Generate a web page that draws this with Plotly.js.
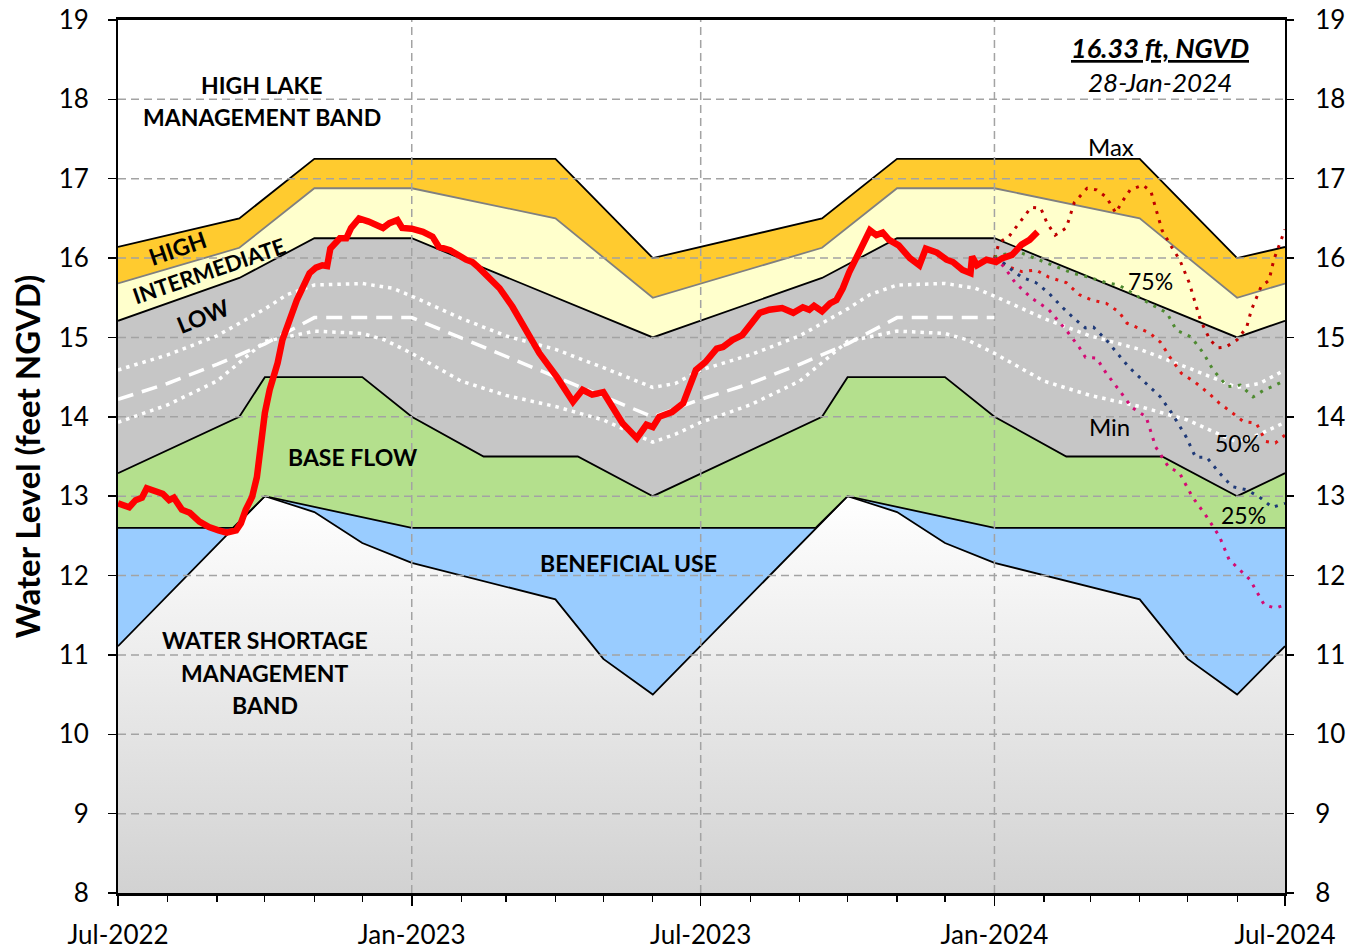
<!DOCTYPE html>
<html>
<head>
<meta charset="utf-8">
<script src="https://cdn.plot.ly/plotly-3.0.1.min.js"></script>
<style>
  html, body { margin: 0; padding: 0; background: #fff; }
  #plot { width: 1361px; height: 952px; }
</style>
</head>
<body>
<div id="plot"></div>
<script>
// schedule band boundaries (ft NGVD)
var highTopDates = ['2022-07-01','2022-09-15','2022-11-01','2023-04-01','2023-06-01','2023-09-15','2023-11-01','2024-04-01','2024-06-01','2024-07-01'];
var highTop = [16.14, 16.5, 17.25, 17.25, 16.0, 16.5, 17.25, 17.25, 16.0, 16.14];

var interTopDates = ['2022-07-01','2022-09-15','2022-11-01','2023-01-01','2023-04-01','2023-06-01','2023-09-15','2023-11-01','2024-01-01','2024-04-01','2024-06-01','2024-07-01'];
var interTop = [15.68, 16.13, 16.88, 16.88, 16.5, 15.5, 16.13, 16.88, 16.88, 16.5, 15.5, 15.68];

var lowTopDates = ['2022-07-01','2022-09-15','2022-11-01','2023-01-01','2023-06-01','2023-09-15','2023-11-01','2024-01-01','2024-06-01','2024-07-01'];
var lowTop = [15.21, 15.75, 16.25, 16.25, 15.0, 15.75, 16.25, 16.25, 15.0, 15.21];

var baseTopDates = ['2022-07-01','2022-09-15','2022-10-01','2022-12-01','2023-01-01','2023-02-15','2023-04-15','2023-06-01','2023-09-15','2023-10-01','2023-12-01','2024-01-01','2024-02-15','2024-04-15','2024-06-01','2024-07-01'];
var baseTop = [13.29, 14.0, 14.5, 14.5, 14.0, 13.5, 13.5, 13.0, 14.0, 14.5, 14.5, 14.0, 13.5, 13.5, 13.0, 13.29];

var benefTopDates = ['2022-07-01','2022-09-11','2022-10-01','2023-01-01','2023-09-11','2023-10-01','2024-01-01','2024-07-01'];
var benefTop = [12.6, 12.6, 13.0, 12.6, 12.6, 13.0, 12.6, 12.6];

var shortTopDates = ['2022-07-01','2022-10-01','2022-11-01','2022-12-01','2023-01-01','2023-04-01','2023-05-01','2023-06-01','2023-10-01','2023-11-01','2023-12-01','2024-01-01','2024-04-01','2024-05-01','2024-06-01','2024-07-01'];
var shortTop = [11.11, 13.0, 12.8, 12.41, 12.16, 11.7, 10.95, 10.5, 13.0, 12.8, 12.41, 12.16, 11.7, 10.95, 10.5, 11.11];

// white lines inside the low band
var upperDates = ['2022-07-01','2022-08-01','2022-09-01','2022-10-01','2022-10-15','2022-11-01','2022-12-01','2022-12-20','2023-01-01','2023-02-01','2023-03-01','2023-04-01','2023-05-01','2023-06-01','2023-06-15',
                  '2023-07-01','2023-08-01','2023-09-01','2023-10-01','2023-10-15','2023-11-01','2023-12-01','2023-12-20','2024-01-01','2024-02-01','2024-03-01','2024-04-01','2024-05-01','2024-06-01','2024-06-15','2024-07-01'];
var upper = [14.59, 14.78, 15.02, 15.36, 15.54, 15.66, 15.68, 15.62, 15.52, 15.24, 15.02, 14.85, 14.62, 14.37, 14.42,
             14.59, 14.78, 15.02, 15.36, 15.54, 15.66, 15.68, 15.62, 15.52, 15.24, 15.02, 14.85, 14.62, 14.37, 14.42, 14.59];

var midDates = ['2022-07-01','2022-08-01','2022-09-01','2022-10-01','2022-11-01','2023-01-01','2023-06-01','2023-07-01','2023-08-01','2023-09-01','2023-10-01','2023-11-01','2024-01-01'];
var mid = [14.22, 14.42, 14.66, 14.92, 15.25, 15.25, 14.0, 14.22, 14.42, 14.66, 14.92, 15.25, 15.25];

var lowerDates = ['2022-07-01','2022-08-01','2022-09-01','2022-09-15','2022-10-01','2022-11-01','2022-12-01','2022-12-15','2023-01-01','2023-02-01','2023-03-01','2023-04-01','2023-05-01','2023-06-01','2023-06-15',
                  '2023-07-01','2023-08-01','2023-09-01','2023-09-15','2023-10-01','2023-11-01','2023-12-01','2023-12-15','2024-01-01','2024-02-01','2024-03-01','2024-04-01','2024-05-01','2024-06-01','2024-06-15','2024-07-01'];
var lower = [13.93, 14.15, 14.45, 14.68, 14.95, 15.08, 15.05, 14.97, 14.8, 14.45, 14.27, 14.13, 13.96, 13.68, 13.78,
             13.93, 14.15, 14.45, 14.68, 14.95, 15.08, 15.05, 14.97, 14.8, 14.45, 14.27, 14.13, 13.96, 13.68, 13.78, 13.93];

// observed lake stage
var obsDates = [
  '2022-07-01','2022-07-08','2022-07-12','2022-07-16','2022-07-19','2022-07-25','2022-07-29',
  '2022-08-02','2022-08-05','2022-08-10','2022-08-15','2022-08-21','2022-08-27',
  '2022-09-02','2022-09-07','2022-09-13','2022-09-16','2022-09-19','2022-09-23','2022-09-26','2022-09-28',
  '2022-10-01','2022-10-04','2022-10-09','2022-10-12','2022-10-17','2022-10-21','2022-10-25','2022-10-29',
  '2022-11-02','2022-11-06','2022-11-09','2022-11-11','2022-11-17','2022-11-21','2022-11-24','2022-11-29',
  '2022-12-05','2022-12-14','2022-12-18','2022-12-23','2022-12-26',
  '2023-01-01','2023-01-08','2023-01-14','2023-01-18','2023-01-25',
  '2023-02-04','2023-02-08','2023-02-12','2023-02-19','2023-02-25',
  '2023-03-05','2023-03-14','2023-03-22',
  '2023-04-02','2023-04-08','2023-04-12','2023-04-18','2023-04-24',
  '2023-05-01','2023-05-07','2023-05-13','2023-05-22','2023-05-28',
  '2023-06-01','2023-06-05','2023-06-13','2023-06-20','2023-06-24','2023-06-28',
  '2023-07-04','2023-07-11','2023-07-15','2023-07-21','2023-07-27',
  '2023-08-01','2023-08-07','2023-08-13','2023-08-21','2023-08-28',
  '2023-09-03','2023-09-07','2023-09-10','2023-09-15','2023-09-20','2023-09-24','2023-09-28',
  '2023-10-02','2023-10-07','2023-10-10','2023-10-15','2023-10-19','2023-10-23','2023-10-27','2023-10-29',
  '2023-11-02','2023-11-09','2023-11-15','2023-11-19','2023-11-26',
  '2023-12-02','2023-12-06','2023-12-12','2023-12-17','2023-12-18','2023-12-21','2023-12-27',
  '2024-01-02','2024-01-06','2024-01-12','2024-01-18','2024-01-23','2024-01-28'];
var obs = [
  12.91, 12.86, 12.95, 12.98, 13.10, 13.05, 13.03,
  12.95, 12.98, 12.83, 12.79, 12.68, 12.61,
  12.57, 12.54, 12.57, 12.66, 12.83, 12.99, 13.24, 13.62,
  14.05, 14.34, 14.68, 14.97, 15.26, 15.47, 15.64, 15.81,
  15.88, 15.91, 15.90, 16.12, 16.25, 16.25, 16.38, 16.50,
  16.46, 16.38, 16.44, 16.48, 16.38,
  16.37, 16.33, 16.27, 16.14, 16.10,
  15.98, 15.95, 15.88, 15.75, 15.62,
  15.39, 15.06, 14.80,
  14.50, 14.30, 14.19, 14.34, 14.28,
  14.31, 14.12, 13.92, 13.73, 13.90,
  13.87, 14.00, 14.06, 14.17, 14.38, 14.59,
  14.69, 14.86, 14.88, 14.97, 15.03,
  15.16, 15.31, 15.35, 15.37, 15.31,
  15.38, 15.35, 15.40, 15.33, 15.43, 15.47, 15.62,
  15.82, 16.04, 16.14, 16.35, 16.29, 16.32, 16.23, 16.21,
  16.16, 16.00, 15.91, 16.12, 16.07,
  15.98, 15.95, 15.85, 15.81, 16.02, 15.91, 15.98,
  15.95, 16.00, 16.04, 16.17, 16.23, 16.33];

// position analysis outlooks
var maxDates = ['2024-01-01','2024-01-04','2024-01-10','2024-01-18','2024-01-24','2024-01-30','2024-02-03','2024-02-08','2024-02-15','2024-02-20','2024-02-28','2024-03-05','2024-03-11','2024-03-17','2024-03-21','2024-03-26','2024-04-03','2024-04-08',
                '2024-04-11','2024-04-15','2024-04-21','2024-04-26','2024-05-02','2024-05-09','2024-05-15','2024-05-20','2024-05-25','2024-06-01','2024-06-07','2024-06-10','2024-06-16','2024-06-21','2024-06-24','2024-06-29','2024-07-01'];
var maxVals = [16.0, 16.2, 16.27, 16.48, 16.64, 16.63, 16.44, 16.29, 16.38, 16.70, 16.88, 16.86, 16.77, 16.57, 16.71, 16.86, 16.92, 16.84,
               16.63, 16.35, 16.14, 15.98, 15.69, 15.22, 14.97, 14.87, 14.88, 14.97, 15.13, 15.35, 15.64, 15.72, 15.98, 16.27, 16.36];

var p75Dates = ['2024-01-01','2024-01-05','2024-01-16','2024-02-02','2024-02-19','2024-02-29','2024-03-11','2024-03-19','2024-03-27','2024-04-07','2024-04-18','2024-04-24','2024-05-03','2024-05-11','2024-05-17','2024-05-26','2024-06-03','2024-06-11','2024-06-18','2024-06-23','2024-06-29','2024-07-01'];
var p75 = [16.01, 16.04, 16.08, 15.94, 15.81, 15.76, 15.69, 15.66, 15.56, 15.43, 15.31, 15.09, 15.01, 14.80, 14.59, 14.38, 14.40, 14.25, 14.34, 14.38, 14.44, 14.46];

var p50Dates = ['2024-01-01','2024-01-10','2024-01-18','2024-01-27','2024-02-04','2024-02-15','2024-02-23','2024-03-02','2024-03-11','2024-03-19','2024-03-24','2024-03-30','2024-04-07','2024-04-14','2024-04-20','2024-04-27','2024-05-06','2024-05-14','2024-05-21','2024-05-29','2024-06-05','2024-06-13','2024-06-19','2024-06-25','2024-07-01'];
var p50 = [16.0, 15.89, 15.83, 15.85, 15.76, 15.69, 15.54, 15.47, 15.43, 15.32, 15.18, 15.13, 15.06, 14.94, 14.75, 14.55, 14.43, 14.30, 14.17, 14.05, 13.94, 13.92, 13.69, 13.67, 13.77];

var p25Dates = ['2024-01-01','2024-01-06','2024-01-12','2024-01-18','2024-01-27','2024-02-04','2024-02-12','2024-02-21','2024-02-27','2024-03-03','2024-03-11','2024-03-18','2024-03-25','2024-04-05','2024-04-14','2024-04-21','2024-04-30','2024-05-06','2024-05-13','2024-05-21','2024-05-29','2024-06-07','2024-06-15','2024-06-23','2024-07-01'];
var p25 = [16.0, 15.95, 15.85, 15.76, 15.69, 15.56, 15.39, 15.22, 15.12, 15.13, 14.97, 14.80, 14.63, 14.42, 14.25, 14.05, 13.75, 13.49, 13.49, 13.29, 13.12, 13.08, 12.99, 12.86, 12.91];

var minDates = ['2024-01-01','2024-01-07','2024-01-14','2024-01-24','2024-02-04','2024-02-15','2024-02-23','2024-02-27','2024-03-05','2024-03-11','2024-03-19','2024-03-27','2024-04-05','2024-04-11','2024-04-19','2024-04-26','2024-05-04','2024-05-13','2024-05-21','2024-05-27','2024-06-09','2024-06-18','2024-06-25','2024-07-01'];
var minVals = [16.0, 15.89, 15.69, 15.50, 15.35, 15.09, 14.88, 14.75, 14.74, 14.55, 14.34, 14.12, 14.00, 13.62, 13.37, 13.29, 12.99, 12.74, 12.49, 12.20, 11.95, 11.63, 11.59, 11.63];

// axis ticks / grid
var xRange = ['2022-07-01', '2024-07-01'];
var xGridDates = ['2023-01-01', '2023-07-01', '2024-01-01'];
var yGridVals = [9, 10, 11, 12, 13, 14, 15, 16, 17, 18];

function band(x, y, fillcolor, linecolor) {
  return {
    x: x, y: y, type: 'scatter', mode: 'lines',
    line: {color: linecolor, width: 1.8},
    fill: 'tonexty', fillcolor: fillcolor,
    hoverinfo: 'skip', showlegend: false
  };
}

function dotted(x, y, color, width, dash) {
  return {
    x: x, y: y, type: 'scatter', mode: 'lines',
    line: {color: color, width: width, dash: dash},
    hoverinfo: 'skip', showlegend: false
  };
}

// grid drawn as a trace so it sits over the colored bands
var gx = [], gy = [];
yGridVals.forEach(function (v) { gx.push(xRange[0], xRange[1], null); gy.push(v, v, null); });
xGridDates.forEach(function (d) { gx.push(d, d, null); gy.push(8, 19, null); });

var traces = [
  {
    x: shortTopDates, y: shortTop, type: 'scatter', mode: 'lines',
    line: {color: 'black', width: 1.8},
    fill: 'tozeroy',
    fillgradient: {type: 'vertical', start: 8, stop: 13, colorscale: [[0, '#d2d2d2'], [1, '#ffffff']]},
    hoverinfo: 'skip', showlegend: false
  },
  band(benefTopDates, benefTop, '#99CCFF', 'black'),
  band(baseTopDates, baseTop, '#B4E08D', 'black'),
  band(lowTopDates, lowTop, '#C6C6C6', 'black'),
  band(interTopDates, interTop, '#FFFFCC', '#808080'),
  band(highTopDates, highTop, '#FFCB2F', 'black'),
  {
    x: gx, y: gy, type: 'scatter', mode: 'lines',
    line: {color: '#A3A3A3', width: 1.5, dash: '8px,5px'},
    hoverinfo: 'skip', showlegend: false
  },
  dotted(upperDates, upper, 'white', 3.5, '3.5px,5px'),
  dotted(lowerDates, lower, 'white', 3.5, '3.5px,5px'),
  dotted(midDates, mid, 'white', 3.5, '16px,9px'),
  dotted(maxDates, maxVals, '#C00000', 3, '3px,6.5px'),
  dotted(p75Dates, p75, '#4E8A30', 3, '3px,6.5px'),
  dotted(p50Dates, p50, '#E01515', 3, '3px,6.5px'),
  dotted(p25Dates, p25, '#1F3A78', 3, '3px,6.5px'),
  dotted(minDates, minVals, '#D40A74', 3, '3px,6.5px'),
  {
    x: obsDates, y: obs, type: 'scatter', mode: 'lines',
    line: {color: '#FF0000', width: 6.5},
    hoverinfo: 'skip', showlegend: false
  },
  {x: [xRange[0]], y: [null], yaxis: 'y2', type: 'scatter', mode: 'lines', hoverinfo: 'skip', showlegend: false}
];

function label(x, y, text, size, angle) {
  return {
    x: x, y: y, xref: 'x', yref: 'y', text: text, showarrow: false,
    xanchor: 'center', yanchor: 'middle', textangle: angle || 0,
    font: {size: size, color: 'black'}
  };
}

var annotations = [
  label('2022-09-29', 18.18, '<b>HIGH LAKE</b>', 23),
  label('2022-09-29', 17.78, '<b>MANAGEMENT BAND</b>', 23),
  label('2022-08-07', 16.13, '<b>HIGH</b>', 23, -19),
  label('2022-08-27', 15.85, '<b>INTERMEDIATE</b>', 22, -19),
  label('2022-08-23', 15.27, '<b>LOW</b>', 23, -22),
  label('2022-11-25', 13.49, '<b>BASE FLOW</b>', 23),
  label('2023-05-17', 12.16, '<b>BENEFICIAL USE</b>', 23),
  label('2022-10-01', 11.19, '<b>WATER SHORTAGE</b>', 23),
  label('2022-10-01', 10.77, '<b>MANAGEMENT</b>', 23),
  label('2022-10-01', 10.37, '<b>BAND</b>', 23),
  label('2024-04-14', 18.65, '<b><i><u>16.33 ft, NGVD</u></i></b>', 27),
  label('2024-04-14', 18.22, '<i>28-Jan-2024</i>', 26),
  label('2024-03-14', 17.41, 'Max', 24),
  label('2024-04-08', 15.71, '75%', 23),
  label('2024-03-13', 13.88, 'Min', 24),
  label('2024-06-01', 13.67, '50%', 23),
  label('2024-06-05', 12.76, '25%', 23)
];

var layout = {
  width: 1361, height: 952,
  margin: {l: 118, r: 76, t: 20, b: 59},
  paper_bgcolor: 'white', plot_bgcolor: 'white',
  showlegend: false,
  font: {family: 'Lato, sans-serif', color: 'black'},
  xaxis: {
    type: 'date', range: xRange, tick0: '2022-07-01', dtick: 'M6', tickformat: '%b-%Y',
    ticks: 'outside', ticklen: 10, tickwidth: 1.5, tickcolor: 'black',
    showline: true, linecolor: 'black', linewidth: 3, mirror: true,
    showgrid: false, zeroline: false, tickfont: {size: 26}, ticklabelstandoff: 7,
    minor: {dtick: 'M1', ticks: 'outside', ticklen: 6, tickwidth: 1.2, tickcolor: 'black', showgrid: false}
  },
  yaxis: {
    range: [8, 19], dtick: 1, ticks: 'outside', ticklen: 8, tickwidth: 1.5, tickcolor: 'black',
    showline: true, linecolor: 'black', linewidth: 2, mirror: true,
    showgrid: false, zeroline: false, tickfont: {size: 26}, ticklabelstandoff: 14,
    title: {text: 'Water Level (feet NGVD)', font: {size: 33, weight: 'bold'}, standoff: 8}
  },
  yaxis2: {
    overlaying: 'y', side: 'right', range: [8, 19], dtick: 1,
    ticks: 'outside', ticklen: 8, tickwidth: 1.5, tickcolor: 'black',
    showline: false, showgrid: false, zeroline: false, tickfont: {size: 26}, ticklabelstandoff: 16
  },
  annotations: annotations
};

Plotly.newPlot('plot', traces, layout, {displayModeBar: false, staticPlot: true});
</script>
</body>
</html>
